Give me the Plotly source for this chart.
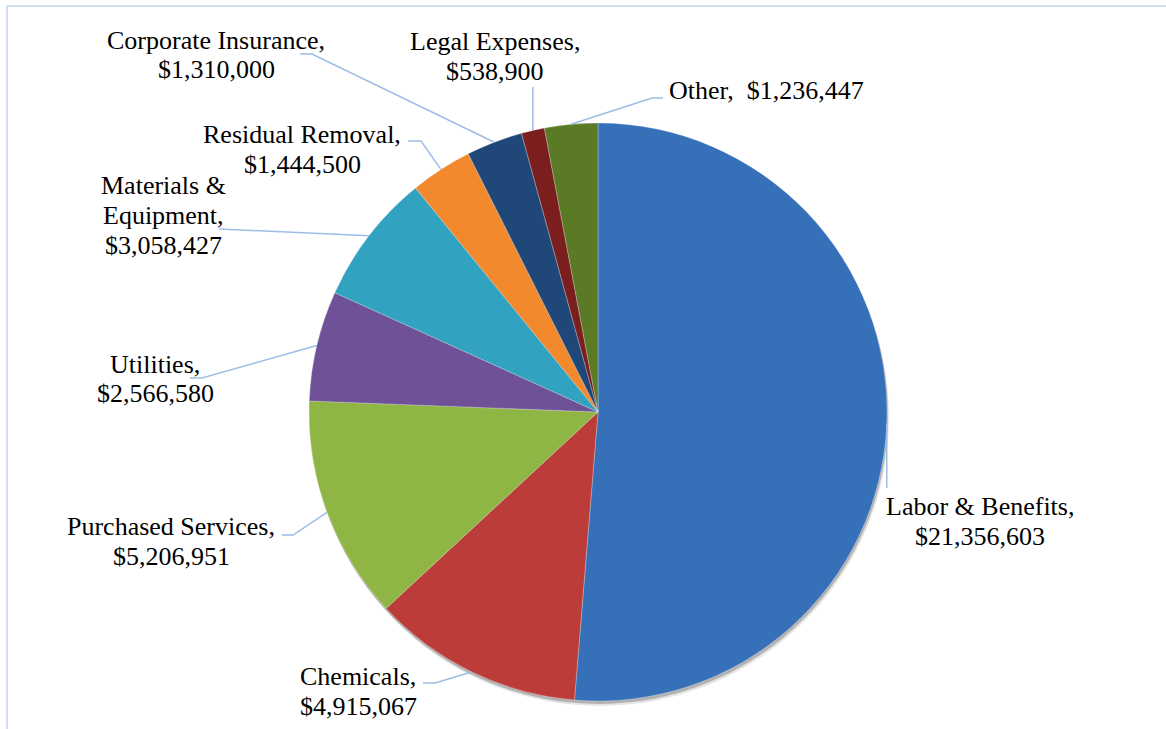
import math
import plotly.graph_objects as go

# ---------------- data ----------------
categories = ["Labor & Benefits", "Chemicals", "Purchased Services", "Utilities",
              "Materials & Equipment", "Residual Removal", "Corporate Insurance",
              "Legal Expenses", "Other"]
values = [21356603, 4915067, 5206951, 2566580, 3058427, 1444500, 1310000, 538900, 1236447]
colors = ["#3670B8", "#BC3C39", "#8FB645", "#6E5196", "#31A3C1", "#F2892C",
          "#1F4778", "#7A1E1E", "#5A7A25"]

# ---------------- layout constants (pixels) ----------------
W, H = 1166, 729
CX, CY, R = 598, 412, 289
FONT = dict(family="Liberation Serif, Times New Roman, serif", size=26, color="#000000")
LINE_GAP = 30
LEADER = "#9DBDE6"

def px(x):
    return x / W

def py(y):
    return 1 - y / H

# label placement (style only): centre x of text, y of first line, leader path after slice edge
# a None x in a path point means "same x as the slice edge"
label_style = {
    "Labor & Benefits":      dict(cx=980, y0=506, path=[(None, 488)]),
    "Chemicals":             dict(cx=358, y0=676, path=[(435, 683), (423, 683)]),
    "Purchased Services":    dict(cx=171, y0=526, path=[(293, 535), (282, 535)]),
    "Utilities":             dict(cx=155, y0=364, path=[(202, 378), (190, 378)]),
    "Materials & Equipment": dict(cx=163, y0=185, path=[(219, 229)]),
    "Residual Removal":      dict(cx=302, y0=135, path=[(421, 141), (408, 141)]),
    "Corporate Insurance":   dict(cx=216, y0=40, path=[(312, 54), (300, 54)]),
    "Legal Expenses":        dict(cx=495, y0=41, path=[(None, 87)]),
    "Other":                 dict(left=667, y0=90, path=[(652, 98), (663, 98)]),
}

def label_lines(name, v):
    money = "$" + f"{v:,}"
    if name == "Materials & Equipment":
        return ["Materials &", "Equipment,", money]
    if name == "Other":
        return [name + ",\u00a0 " + money]
    return [name + ",", money]

fig = go.Figure()
fig.add_trace(go.Pie(
    labels=categories, values=values, sort=False, direction="clockwise", rotation=0,
    marker=dict(colors=colors, line=dict(color="rgba(255,255,255,0.45)", width=0.6)),
    textinfo="none", hoverinfo="label+value+percent", showlegend=False,
    domain=dict(x=[px(CX - R), px(CX + R)], y=[py(CY + R), py(CY - R)]),
))

shapes = []
# chart frame (only top and left edges visible in the crop)
shapes.append(dict(type="rect", xref="paper", yref="paper",
                   x0=px(7), x1=px(W + 40), y0=py(H + 40), y1=py(6),
                   line=dict(color="#D3E0F0", width=2), fillcolor="rgba(0,0,0,0)", layer="below"))
# soft shadow behind pie
for dx, dy, op in [(1, 3, 0.22), (2, 5, 0.10)]:
    shapes.append(dict(type="circle", xref="paper", yref="paper",
                       x0=px(CX - R + dx), x1=px(CX + R + dx),
                       y0=py(CY + R + dy), y1=py(CY - R + dy),
                       line=dict(width=0), fillcolor=f"rgba(0,0,0,{op})", layer="below"))

annotations = []
total = sum(values)
cum = 0.0
for name, v in zip(categories, values):
    mid = (cum + v / 2) / total
    cum += v
    ang = 2 * math.pi * mid
    ex = CX + R * math.sin(ang)
    ey = CY - R * math.cos(ang)
    st = label_style[name]
    pts = [(ex, ey)] + [((ex if x is None else x), y) for x, y in st["path"]]
    d = "M " + " L ".join(f"{px(x)},{py(y)}" for x, y in pts)
    shapes.append(dict(type="path", xref="paper", yref="paper", path=d,
                       line=dict(color=LEADER, width=1.5)))
    for i, t in enumerate(label_lines(name, v)):
        if "left" in st:
            annotations.append(dict(x=px(st["left"]), y=py(st["y0"] + i * LINE_GAP),
                                    xref="paper", yref="paper", text=t, showarrow=False,
                                    xanchor="left", yanchor="middle", font=FONT))
        else:
            annotations.append(dict(x=px(st["cx"]), y=py(st["y0"] + i * LINE_GAP),
                                    xref="paper", yref="paper", text=t, showarrow=False,
                                    xanchor="center", yanchor="middle", font=FONT))

fig.update_layout(
    width=W, height=H, margin=dict(l=0, r=0, t=0, b=0),
    paper_bgcolor="#FFFFFF", plot_bgcolor="#FFFFFF",
    shapes=shapes, annotations=annotations, showlegend=False,
)

fig.write_html("out.html")
